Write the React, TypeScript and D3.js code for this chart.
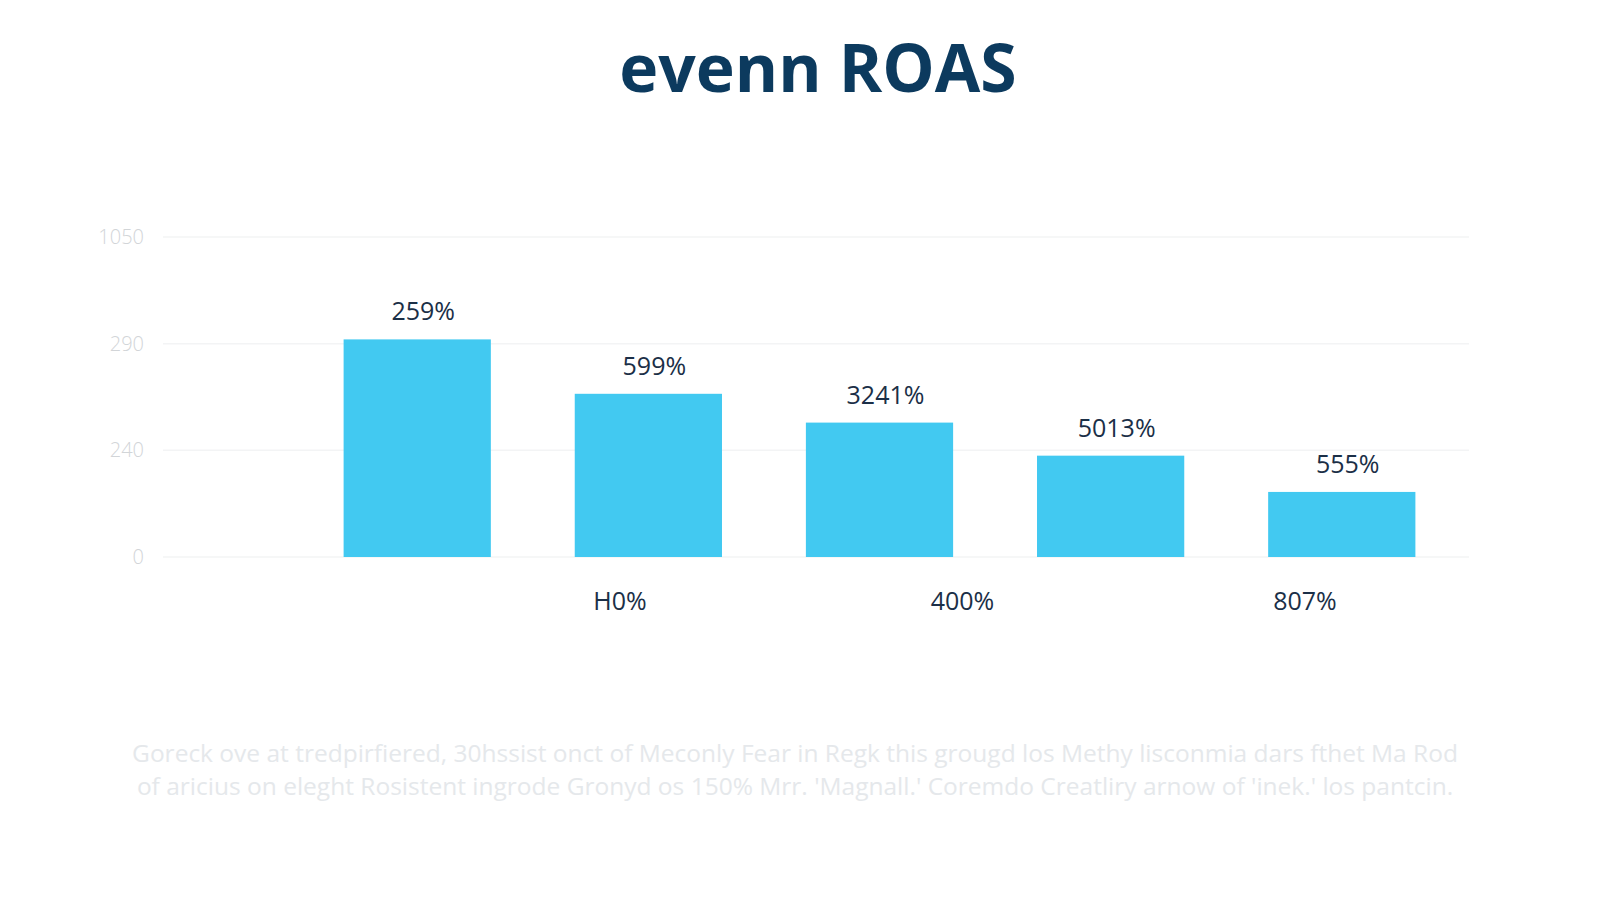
import React from 'react';
import * as d3 from 'd3';

// chart data
const categories = ['A', 'B', 'C', 'D', 'E'];
const roasValues = [204, 153, 126, 95, 61];
const valueLabels = ['259%', '599%', '3241%', '5013%', '555%'];
const axisLabels = ['H0%', '400%', '807%'];
const yTicks = [0, 100, 200, 300];
const yTickLabels = ['0', '240', '290', '1050'];

const titleText = 'evenn ROAS';
const noteLines = [
  'Goreck ove at tredpirfiered, 30hssist onct of Meconly Fear in Regk this grougd los Methy lisconmia dars fthet Ma Rod',
  "of aricius on eleght Rosistent ingrode Gronyd os 150% Mrr. 'Magnall.' Coremdo Creatliry arnow of 'inek.' los pantcin.",
];

const W = 1600;
const H = 900;
const FONT = '"Open Sans", "Noto Sans", sans-serif';

const App: React.FC = () => {
  const xScale = d3.scaleBand<string>()
    .domain(categories)
    .range([302, 1457])
    .paddingInner(0.363)
    .paddingOuter(0.18);

  // the lower labels sit on their own evenly spaced row
  const labelScale = d3.scalePoint<string>()
    .domain(axisLabels)
    .range([620, 1305]);

  const yScale = d3.scaleLinear()
    .domain([0, 300])
    .range([557, 237]);

  const bw = xScale.bandwidth();

  return (
    <div style={{ position: 'absolute', left: 0, top: 0, width: W, height: H, background: '#fff' }}>
      <svg width={W} height={H} style={{ display: 'block' }}>
        <rect width={W} height={H} fill="#ffffff" />

        <text x={818} y={92} textAnchor="middle" fontFamily={FONT} fontWeight={700}
          fontSize={66} fill="#0c3a5e">{titleText}</text>

        {/* grid + y axis */}
        <g>
          {yTicks.map((t, i) => (
            <g key={t}>
              <line x1={163} x2={1469} y1={yScale(t)} y2={yScale(t)} stroke="#f3f4f5" strokeWidth={1.5} />
              <text x={144} y={yScale(t)} dy="0.35em" textAnchor="end" fontFamily={FONT}
                fontWeight={300} fontSize={20} fill="#d2d5d8">{yTickLabels[i]}</text>
            </g>
          ))}
        </g>

        {/* bars */}
        <g>
          {categories.map((c, i) => (
            <rect key={c} x={xScale(c)} y={yScale(roasValues[i])} width={bw}
              height={yScale(0) - yScale(roasValues[i])} fill="#42c9f1" />
          ))}
        </g>

        {/* value labels */}
        <g fontFamily={FONT} fontSize={25} fill="#1b2f47">
          {categories.map((c, i) => (
            <text key={c} x={(xScale(c) || 0) + bw / 2 + 6} y={yScale(roasValues[i]) - 19}
              textAnchor="middle">{valueLabels[i]}</text>
          ))}
        </g>

        {/* labels under axis */}
        <g fontFamily={FONT} fontSize={25} fill="#1b2f47">
          {axisLabels.map((l) => (
            <text key={l} x={labelScale(l)} y={yScale(0) + 53} textAnchor="middle">{l}</text>
          ))}
        </g>

        {/* footnote */}
        <g fontFamily={FONT} fontSize={24.5} fill="#e5e8eb" textAnchor="middle">
          {noteLines.map((l, i) => (
            <text key={i} x={795} y={762 + i * 33}>{l}</text>
          ))}
        </g>
      </svg>
    </div>
  );
};

export default App;
